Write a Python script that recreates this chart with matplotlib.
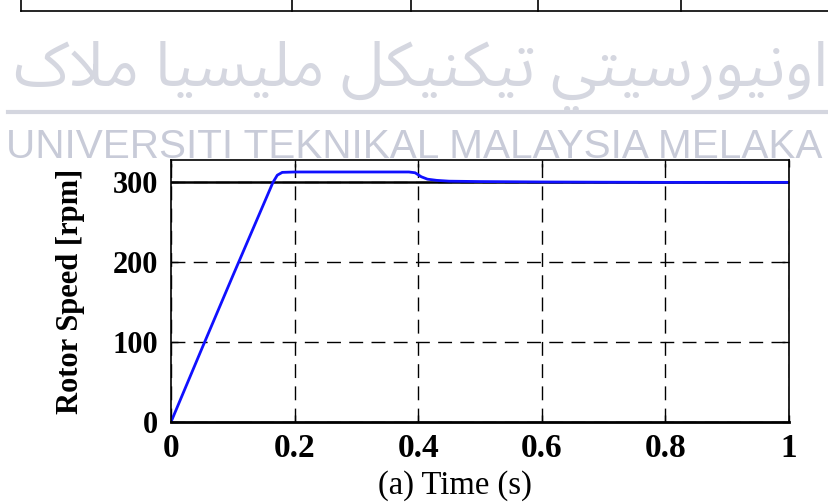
import matplotlib
import matplotlib.pyplot as plt
from matplotlib.lines import Line2D

matplotlib.use('Agg')

# rotor speed response (blue) and speed reference (black)
time_s = [0, 0.05, 0.10, 0.15, 0.165, 0.172, 0.18, 0.20, 0.30, 0.385, 0.395,
          0.405, 0.415, 0.43, 0.45, 0.50, 0.60, 0.70, 0.80, 1.0]
speed_rpm = [0, 92, 183, 273, 300, 309, 312.5, 313, 313, 313, 312,
             307, 304, 302.5, 301.5, 301, 300.5, 300.2, 300, 300]
ref_time = [0, 1]
ref_speed = [300, 300]

x_ticks = [0, 0.2, 0.4, 0.6, 0.8, 1]
x_tick_labels = ['0', '0.2', '0.4', '0.6', '0.8', '1']
y_ticks = [0, 100, 200, 300]

watermark_en = 'UNIVERSITI TEKNIKAL MALAYSIA MELAKA'
# Jawi name, written with presentation forms in visual order
watermark_jawi = ('\uFB8E\uFEFC\uFEE3 '
                  '\uFE8E\uFEF4\uFEB4\uFEF4\uFEE0\uFEE3 '
                  '\uFEDE\uFB91\uFEF4\uFEE8\uFEDC\uFEF4\uFE97 '
                  '\uFEF2\uFE98\uFEF4\uFEB3\uFEAD\uFEEE\uFEF4\uFEE7\uFEED\uFE8D')

W, H = 829, 503
fig = plt.figure(figsize=(W / 100, H / 100), dpi=100)
fig.patch.set_facecolor('white')

# bottom edge of the table above the figure
fig.add_artist(Line2D([21 / W, 1], [1 - 11 / H, 1 - 11 / H], color='black', lw=1.2,
                      transform=fig.transFigure))
for xp in [21, 292, 411, 538, 681]:
    fig.add_artist(Line2D([xp / W, xp / W], [1 - 11 / H, 1], color='black', lw=1.2,
                          transform=fig.transFigure))

# watermark
fig.text(14 / W, 1 - 86 / H, watermark_jawi, fontsize=45, color='#d5d7e0',
         family=['Noto Sans Arabic', 'Noto Naskh Arabic', 'FreeSans', 'DejaVu Sans Mono',
                 'DejaVu Sans'],
         va='baseline', ha='left')
fig.add_artist(Line2D([8 / W, 1], [1 - 112 / H, 1 - 112 / H], color='#d4d6df', lw=3,
                      transform=fig.transFigure))
fig.text(6 / W, 1 - 158 / H, watermark_en, fontsize=29.2, color='#c8cbd8',
         family='Liberation Sans', va='baseline', ha='left')

ax = fig.add_axes([171 / W, 81 / H, 618 / W, 262 / H])
ax.set_facecolor('none')

ax.plot(ref_time, ref_speed, color='black', lw=1.8, zorder=3)
ax.plot(time_s, speed_rpm, color='#1010ff', lw=2.0, zorder=4)

ax.set_xlim(0, 1)
ax.set_ylim(0, 328)
ax.set_xticks(x_ticks)
ax.set_xticklabels(x_tick_labels)
ax.set_yticks(y_ticks)
ax.grid(True, color='black', lw=1.0, linestyle=(0, (10, 6)))
ax.tick_params(direction='in', top=True, right=True, length=5, width=1)
for lbl in ax.get_xticklabels():
    lbl.set_fontfamily('Liberation Serif')
    lbl.set_fontweight('bold')
    lbl.set_fontsize(24)
for lbl in ax.get_yticklabels():
    lbl.set_fontfamily('Liberation Serif')
    lbl.set_fontweight('bold')
    lbl.set_fontsize(22)
ax.tick_params(axis='x', pad=8)
ax.tick_params(axis='y', pad=9)
for sp in ax.spines.values():
    sp.set_linewidth(1.2)
    sp.set_zorder(5)
ax.spines['bottom'].set_linewidth(2.0)

ax.set_ylabel('Rotor Speed [rpm]', fontfamily='Liberation Serif', fontweight='bold',
              fontsize=22)
ax.yaxis.set_label_coords(-0.139, 0.5)
ax.set_xlabel('(a) Time (s)', fontfamily='Liberation Serif', fontsize=23.5)
ax.xaxis.set_label_coords(0.46, -0.183)

fig.savefig('out.png', dpi=100)
